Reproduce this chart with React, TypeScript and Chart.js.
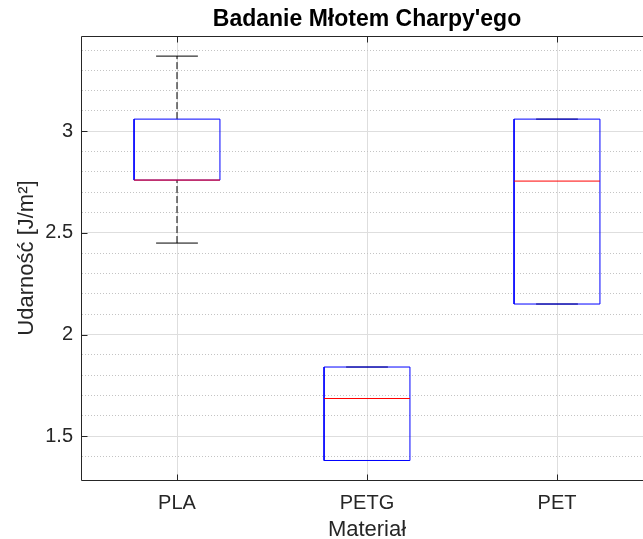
import React, { useEffect, useRef } from 'react';
import { Chart, registerables } from 'chart.js';

Chart.register(...registerables);

// ---- data ----
const categories = ['PLA', 'PETG', 'PET'];
const lowerWhisker = [2.45, 1.38, 2.15];
const lowerQuartile = [2.76, 1.38, 2.15];
const medians = [2.76, 1.685, 2.755];
const upperQuartile = [3.06, 1.84, 3.06];
const upperWhisker = [3.37, 1.84, 3.06];
const yMajorTicks = [1.5, 2, 2.5, 3];
const yLimits = [1.284, 3.469];
const xLimits = [0.5, 3.5];
const titleText = "Badanie Młotem Charpy'ego";
const xTitle = 'Materiał';
const yTitle = 'Udarność [J/m²]';

const BOX_HALF = 0.226;
const CAP_HALF = 0.11;
const FONT = '"Liberation Sans", Arial, Helvetica, sans-serif';

type P = { x: number; y: number | null };

function joinSegments(list: P[][]): P[] {
  const out: P[] = [];
  list.forEach((s, i) => {
    if (i > 0) out.push({ x: s[0].x, y: null });
    out.push(...s);
  });
  return out;
}

const framePlugin = {
  id: 'matlabFrame',
  afterDraw(chart: any) {
    const { ctx, chartArea } = chart;
    const { left, top, right, bottom } = chartArea;
    const L = Math.round(left) - 0.5;
    const T = Math.round(top) + 0.5;
    const B = Math.round(bottom) + 0.5;
    const R = Math.round(right) + 0.5;
    ctx.save();
    ctx.strokeStyle = '#262626';
    ctx.lineWidth = 1;
    ctx.beginPath();
    ctx.moveTo(L, T);
    ctx.lineTo(R, T);
    ctx.lineTo(R, B);
    ctx.lineTo(L, B);
    ctx.closePath();
    ctx.stroke();
    const tl = 6;
    ctx.beginPath();
    chart.scales.x.ticks.forEach((t: any) => {
      const px = Math.round(chart.scales.x.getPixelForValue(t.value)) + 0.5;
      ctx.moveTo(px, B);
      ctx.lineTo(px, B - tl);
      ctx.moveTo(px, T);
      ctx.lineTo(px, T + tl);
    });
    chart.scales.y.ticks.forEach((t: any) => {
      const py = Math.round(chart.scales.y.getPixelForValue(t.value)) + 0.5;
      ctx.moveTo(L, py);
      ctx.lineTo(L + tl, py);
      ctx.moveTo(R, py);
      ctx.lineTo(R - tl, py);
    });
    ctx.stroke();
    ctx.restore();
  },
};

export default function App() {
  const ref = useRef<HTMLCanvasElement>(null);

  useEffect(() => {
    const canvas = ref.current!;
    const pos = categories.map((_, i) => i + 1);

    const whiskerData = joinSegments(
      pos.flatMap((x, i) => [
        [{ x, y: upperQuartile[i] }, { x, y: upperWhisker[i] }],
        [{ x, y: lowerWhisker[i] }, { x, y: lowerQuartile[i] }],
      ])
    );
    const capData = joinSegments(
      pos.flatMap((x, i) => [
        [{ x: x - CAP_HALF, y: upperWhisker[i] }, { x: x + CAP_HALF, y: upperWhisker[i] }],
        [{ x: x - CAP_HALF, y: lowerWhisker[i] }, { x: x + CAP_HALF, y: lowerWhisker[i] }],
      ])
    );
    const boxData = joinSegments(
      pos.map((x, i) => [
        { x: x - BOX_HALF, y: lowerQuartile[i] },
        { x: x + BOX_HALF, y: lowerQuartile[i] },
        { x: x + BOX_HALF, y: upperQuartile[i] },
        { x: x - BOX_HALF, y: upperQuartile[i] },
        { x: x - BOX_HALF, y: lowerQuartile[i] },
      ])
    );
    const medianData = joinSegments(
      pos.map((x, i) => [
        { x: x - BOX_HALF, y: medians[i] },
        { x: x + BOX_HALF, y: medians[i] },
      ])
    );

    const common = {
      xAxisID: 'x',
      yAxisID: 'y',
      pointRadius: 0,
      pointHoverRadius: 0,
      borderWidth: 1,
      fill: false,
      tension: 0,
      spanGaps: false,
    };

    const chart = new Chart(canvas, {
      type: 'line',
      data: {
        datasets: [
          { ...common, label: 'Median', data: medianData, borderColor: '#ff0000', order: 0 },
          { ...common, label: 'Box', data: boxData, borderColor: '#0000ff', order: 1 },
          { ...common, label: 'Adjacent', data: capData, borderColor: '#000000', order: 2 },
          { ...common, label: 'Whisker', data: whiskerData, borderColor: '#000000', borderDash: [7, 3], order: 3 },
        ] as any,
      },
      options: {
        responsive: false,
        animation: false,
        devicePixelRatio: 1,
        parsing: false as any,
        normalized: true,
        layout: { padding: { left: 0, top: 0, right: 8, bottom: 0 } },
        plugins: {
          legend: { display: false },
          tooltip: { enabled: false },
          title: { display: false },
        },
        scales: {
          xTop: {
            type: 'linear',
            position: 'top',
            min: xLimits[0],
            max: xLimits[1],
            ticks: { display: false },
            grid: { display: false, drawTicks: false },
            border: { display: false },
            afterFit: (s: any) => {
              s.height = 36;
            },
            title: {
              display: true,
              text: titleText,
              color: '#000000',
              font: { family: FONT, size: 23, weight: 'bold' },
              padding: { top: 6, bottom: 0 },
            },
          },
          x: {
            type: 'linear',
            position: 'bottom',
            min: xLimits[0],
            max: xLimits[1],
            afterBuildTicks: (s: any) => {
              s.ticks = pos.map((v) => ({ value: v }));
            },
            afterFit: (s: any) => {
              s.height = 80;
            },
            ticks: {
              callback: (v: any) => categories[Math.round(Number(v)) - 1] ?? '',
              color: '#262626',
              font: { family: FONT, size: 20 },
              padding: 3,
              maxRotation: 0,
              autoSkip: false,
            },
            grid: { color: '#dedede', tickColor: 'rgba(0,0,0,0)', tickLength: 8 },
            border: { display: false },
            title: {
              display: true,
              text: xTitle,
              color: '#262626',
              font: { family: FONT, size: 22 },
              padding: { top: 0, bottom: 16.8 },
            },
          },
          y: {
            type: 'linear',
            position: 'left',
            min: yLimits[0],
            max: yLimits[1],
            afterBuildTicks: (s: any) => {
              s.ticks = yMajorTicks.map((v) => ({ value: v }));
            },
            afterFit: (s: any) => {
              s.width = 82;
            },
            ticks: {
              callback: (v: any) => String(v),
              color: '#262626',
              font: { family: FONT, size: 20 },
              padding: 1,
            },
            grid: { color: '#dedede', tickColor: 'rgba(0,0,0,0)', tickLength: 8 },
            border: { display: false },
            title: {
              display: true,
              text: yTitle,
              color: '#262626',
              font: { family: FONT, size: 22 },
              padding: { top: 14, bottom: 0 },
            },
          },
          yMinor: {
            type: 'linear',
            position: 'left',
            min: yLimits[0],
            max: yLimits[1],
            ticks: { display: false, stepSize: 0.1 },
            afterBuildTicks: (s: any) => {
              s.ticks = s.ticks.filter((t: any) => {
                const tenth = t.value * 10;
                const isTenth = Math.abs(tenth - Math.round(tenth)) < 1e-6;
                const half = t.value * 2;
                const isMajor = Math.abs(half - Math.round(half)) < 1e-6;
                return isTenth && !isMajor;
              });
            },
            afterFit: (s: any) => {
              s.width = 0;
            },
            grid: { color: '#c4c4c4', drawTicks: false },
            border: { display: false, dash: [1, 2] },
          },
        },
      } as any,
      plugins: [framePlugin],
    });

    return () => chart.destroy();
  }, []);

  return (
    <div
      style={{
        position: 'absolute',
        left: 0,
        top: 0,
        width: 643,
        height: 539,
        overflow: 'hidden',
        background: '#ffffff',
      }}
    >
      <canvas ref={ref} width={660} height={560} style={{ display: 'block', width: 660, height: 560 }} />
    </div>
  );
}
